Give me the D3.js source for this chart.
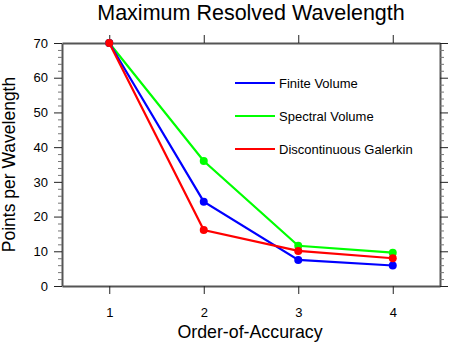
<!DOCTYPE html>
<html>
<head>
<meta charset="utf-8">
<script src="https://cdn.jsdelivr.net/npm/d3@7"></script>
<style>
body { margin: 0; background: #fff; }
svg { display: block; font-family: "Liberation Sans", Arial, Helvetica, sans-serif; }
</style>
</head>
<body>
<script>
const orders = [1, 2, 3, 4];
const finiteVolume = [70, 24.3, 7.5, 5.9];
const spectralVolume = [70, 36.0, 11.6, 9.6];
const discGalerkin = [70, 16.1, 10.1, 8.0];
const seriesNames = ['Finite Volume', 'Spectral Volume', 'Discontinuous Galerkin'];
const seriesColors = ['#0000ff', '#00ff00', '#ff0000'];
const yTicks = [0, 10, 20, 30, 40, 50, 60, 70];

const w = 449, h = 344;
const pLeft = 62, pRight = 440, pTop = 43, pBottom = 286;

const svg = d3.select('body').append('svg').attr('width', w).attr('height', h);

const x = d3.scaleLinear().domain([0.5, 4.5]).range([pLeft, pRight]);
const y = d3.scaleLinear().domain([0, 70]).range([pBottom, pTop]);

const minor = d3.range(0, 71, 2).filter(v => v % 10 != 0);
const axisCol = '#555';

// frame axes with outward ticks on all four sides
const ax = [
  { a: d3.axisBottom(x).tickValues(orders).tickFormat(d3.format('d')), t: `translate(0,${pBottom})`, pad: 14 },
  { a: d3.axisTop(x).tickValues(orders).tickFormat(''), t: `translate(0,${pTop})`, pad: 6 },
  { a: d3.axisLeft(y).tickValues(yTicks).tickFormat(d3.format('d')), t: `translate(${pLeft},0)`, pad: 6 },
  { a: d3.axisRight(y).tickValues(yTicks).tickFormat(''), t: `translate(${pRight},0)`, pad: 6 }
];
ax.forEach(o => {
  const g = svg.append('g').attr('transform', o.t)
    .call(o.a.tickSizeOuter(0).tickSizeInner(8).tickPadding(o.pad));
  g.select('.domain').attr('stroke', axisCol).attr('stroke-width', 2);
  g.selectAll('.tick line').attr('stroke', '#222').attr('stroke-width', 1);
  g.selectAll('.tick text').style('font-size', '13px').attr('fill', '#000');
});

// minor ticks on the left and right
svg.append('g').attr('transform', `translate(${pLeft},0)`)
  .call(d3.axisLeft(y).tickValues(minor).tickSize(4).tickFormat(''))
  .call(g => g.select('.domain').remove())
  .selectAll('line').attr('stroke', '#777');
svg.append('g').attr('transform', `translate(${pRight},0)`)
  .call(d3.axisRight(y).tickValues(minor).tickSize(4).tickFormat(''))
  .call(g => g.select('.domain').remove())
  .selectAll('line').attr('stroke', '#777');

const series = [finiteVolume, spectralVolume, discGalerkin];
const line = d3.line().x((d, i) => x(orders[i])).y(d => y(d));

// draw green first, then blue, then red on top
[1, 0, 2].forEach(k => {
  svg.append('path').datum(series[k])
    .attr('d', line).attr('fill', 'none')
    .attr('stroke', seriesColors[k]).attr('stroke-width', 2.2);
  svg.selectAll('.pt' + k).data(series[k]).enter().append('circle')
    .attr('class', 'pt' + k)
    .attr('cx', (d, i) => x(orders[i])).attr('cy', d => y(d))
    .attr('r', 4).attr('fill', seriesColors[k]);
});

// legend
seriesNames.forEach((n, i) => {
  const ly = 83 + i * 33;
  svg.append('line').attr('x1', 235).attr('x2', 275).attr('y1', ly).attr('y2', ly)
    .attr('stroke', seriesColors[i]).attr('stroke-width', 2);
  svg.append('text').attr('x', 279).attr('y', ly + 4.5).text(n)
    .style('font-size', '13px').attr('fill', '#000');
});

svg.append('text').attr('text-anchor', 'middle').attr('x', 251).attr('y', 20)
  .text('Maximum Resolved Wavelength').style('font-size', '21.5px');

svg.append('text').attr('text-anchor', 'middle').attr('x', 250).attr('y', 338)
  .text('Order-of-Accuracy').style('font-size', '17.8px');

svg.append('text').attr('text-anchor', 'middle')
  .attr('transform', `translate(15,${(pTop + pBottom) / 2}) rotate(-90)`)
  .text('Points per Wavelength').style('font-size', '17.5px');
</script>
</body>
</html>
